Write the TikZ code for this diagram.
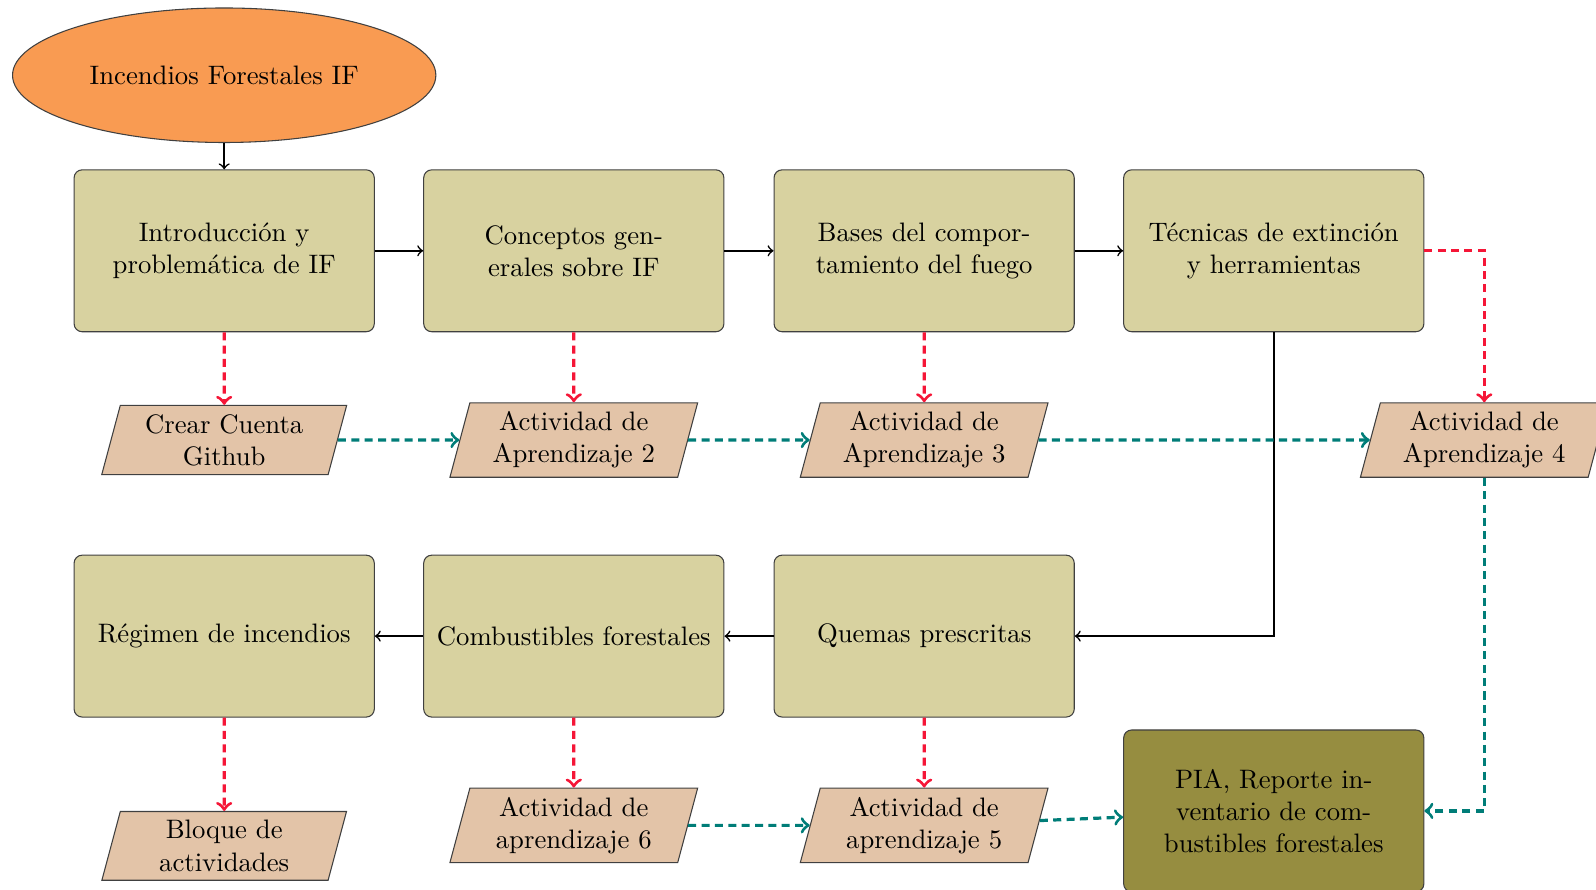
\documentclass[tikz,border=0pt]{standalone}
\usepackage{tikz}
\usetikzlibrary{shapes.geometric}
\definecolor{caja}{RGB}{216,210,160}
\definecolor{naranja}{RGB}{249,155,82}
\definecolor{actividad}{RGB}{227,196,168}
\definecolor{olivo}{RGB}{150,141,64}
\definecolor{rojo}{RGB}{245,22,55}
\definecolor{verde}{RGB}{0,125,120}

\begin{document}
\begin{tikzpicture}[auto,
    tema/.style={draw=black!75, fill=caja, rounded corners=3pt, minimum width=3.95cm, minimum height=2.13cm, align=center},
    act/.style={trapezium, trapezium left angle=75, trapezium right angle=105, draw=black!75, fill=actividad, text width=2.5cm, align=center},
    flecha/.style={->, semithick},
    flecharoja/.style={->, densely dashed, very thick, draw=rojo},
    flechaverde/.style={->, densely dashed, very thick, draw=verde}]
    \path [use as bounding box, clip] (0, 0) rectangle (21, -11.7);
    \node [ellipse, draw=black!75, fill=naranja, minimum width=5.57cm, minimum height=1.77cm] (if) at (2.95, -0.99) {Incendios Forestales IF};
    % primera fila
    \node [tema] (intro) at (2.95, -3.3) {Introducción y\\problemática de IF};
    \node [tema] (conc) at (7.55, -3.3) {Conceptos gen-\\erales sobre IF};
    \node [tema] (bases) at (12.16, -3.3) {Bases del compor-\\tamiento del fuego};
    \node [tema] (tec) at (16.76, -3.3) {Técnicas de extinción\\y herramientas};
    \node [act] (a1) at (2.95, -5.79) {Crear Cuenta\\Github};
    \node [act] (a2) at (7.55, -5.79) {Actividad de\\Aprendizaje 2};
    \node [act] (a3) at (12.16, -5.79) {Actividad de\\Aprendizaje 3};
    \node [act] (a4) at (19.53, -5.79) {Actividad de\\Aprendizaje 4};
    % segunda fila
    \node [tema] (reg) at (2.95, -8.37) {Régimen de incendios};
    \node [tema] (comb) at (7.55, -8.37) {Combustibles forestales};
    \node [tema] (quem) at (12.16, -8.37) {Quemas prescritas};
    \node [act] (bloq) at (2.95, -11.13) {Bloque de\\actividades};
    \node [act] (a6) at (7.55, -10.86) {Actividad de\\aprendizaje 6};
    \node [act] (a5) at (12.16, -10.86) {Actividad de\\aprendizaje 5};
    \node [tema, fill=olivo] (pia) at (16.76, -10.67) {PIA, Reporte in-\\ventario de com-\\bustibles forestales};
    \draw [flecha] (if) to (intro);
    \draw [flecha] (intro) to (conc);
    \draw [flecha] (conc) to (bases);
    \draw [flecha] (bases) to (tec);
    \draw [flecha] (tec) |- (quem);
    \draw [flecha] (quem) to (comb);
    \draw [flecha] (comb) to (reg);
    \draw [flecharoja] (intro) to (a1);
    \draw [flecharoja] (conc) to (a2);
    \draw [flecharoja] (bases) to (a3);
    \draw [flecharoja] (tec) -| (a4);
    \draw [flecharoja] (reg) to (bloq);
    \draw [flecharoja] (comb) to (a6);
    \draw [flecharoja] (quem) to (a5);
    \draw [flechaverde] (a1) to (a2);
    \draw [flechaverde] (a2) to (a3);
    \draw [flechaverde] (a3) to (a4);
    \draw [flechaverde] (a6) to (a5);
    \draw [flechaverde] (a5) to (pia);
    \draw [flechaverde] (a4) |- (pia);
  \end{tikzpicture}
\end{document}
